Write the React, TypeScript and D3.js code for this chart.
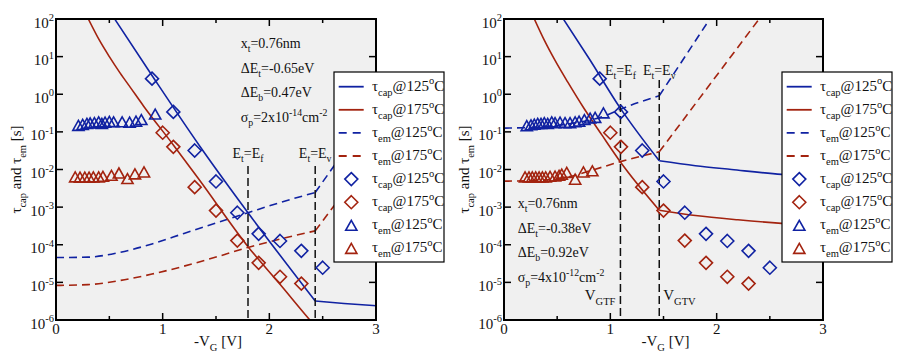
import React from 'react';
import * as d3 from 'd3';

const BLUE = '#1022a2';
const RED = '#a3230f';
const FONT = '"Liberation Serif", "Times New Roman", serif';

// ---------- experimental data (same in both panels) ----------
const capV125 = [0.9, 1.1, 1.3, 1.5, 1.7, 1.9, 2.1, 2.3, 2.5];
const capTau125 = [2.6, 0.34, 0.032, 4.8e-3, 7.1e-4, 1.95e-4, 1.26e-4, 6.9e-5, 2.45e-5];
const capV175 = [1.0, 1.1, 1.3, 1.5, 1.7, 1.9, 2.1, 2.3];
const capTau175 = [0.095, 0.04, 3.4e-3, 8.1e-4, 1.29e-4, 3.3e-5, 1.41e-5, 9.3e-6];

// emission measurements (left panel)
const emV125L = [0.21, 0.25, 0.29, 0.32, 0.36, 0.40, 0.43, 0.46, 0.50, 0.54, 0.62, 0.69, 0.75, 0.80, 0.93];
const emTau125L = [0.14, 0.148, 0.158, 0.162, 0.166, 0.174, 0.158, 0.17, 0.178, 0.174, 0.174, 0.17, 0.182, 0.2, 0.28];
const emV175L = [0.18, 0.225, 0.27, 0.31, 0.35, 0.40, 0.44, 0.52, 0.59, 0.67, 0.74, 0.825];
const emTau175L = [6.0e-3, 5.9e-3, 5.9e-3, 5.9e-3, 6.0e-3, 6.0e-3, 6.2e-3, 6.6e-3, 7.6e-3, 5.4e-3, 7.2e-3, 8.1e-3];
// emission measurements (right panel)
const emV125R = [0.214, 0.254, 0.285, 0.317, 0.348, 0.379, 0.411, 0.449, 0.48, 0.527, 0.574, 0.621, 0.669, 0.706, 0.756, 0.81, 0.857, 0.935];
const emTau125R = [0.138, 0.145, 0.151, 0.158, 0.158, 0.166, 0.158, 0.174, 0.166, 0.17, 0.166, 0.166, 0.174, 0.182, 0.2, 0.219, 0.229, 0.30];
const emV175R = [0.198, 0.235, 0.266, 0.298, 0.33, 0.361, 0.392, 0.433, 0.48, 0.518, 0.543, 0.59, 0.669, 0.747, 0.831];
const emTau175R = [6.0e-3, 6.0e-3, 6.0e-3, 6.0e-3, 6.0e-3, 6.0e-3, 6.0e-3, 6.2e-3, 6.3e-3, 6.6e-3, 7.1e-3, 7.9e-3, 5.2e-3, 8.1e-3, 8.7e-3];

// ---------- model curves, left panel ----------
const lCap125V = [0.55, 0.9, 1.35, 1.8, 2.43];
const lCap125Tau = [100, 3.16, 0.041, 7.1e-4, 3.2e-6];
const lCap125TailV = [2.43, 2.7, 3.0];
const lCap125TailTau = [3.2e-6, 2.75e-6, 2.4e-6];
const lCap175V = [0.303, 0.4, 0.5, 0.6, 0.7, 0.82, 1.1, 1.35, 1.8, 2.1, 2.38, 2.45];
const lCap175Tau = [100, 29.5, 10, 3.7, 1.48, 0.49, 0.045, 5.0e-3, 8.9e-5, 8.9e-6, 1e-6, 5.9e-7];
const lEm125V = [0, 0.3, 0.6, 0.9, 1.2, 1.5, 1.8, 2.1, 2.43];
const lEm125Tau = [4.57e-5, 4.68e-5, 6.3e-5, 1.05e-4, 2.0e-4, 3.8e-4, 7.1e-4, 1.32e-3, 2.45e-3];
const lEm125TailV = [2.43, 3.0];
const lEm125TailTau = [2.45e-3, 0.47];
const lEm175V = [0, 0.3, 0.6, 0.9, 1.2, 1.5, 1.8, 2.1, 2.43];
const lEm175Tau = [8.3e-6, 8.7e-6, 1.12e-5, 1.66e-5, 2.7e-5, 4.7e-5, 8.5e-5, 1.41e-4, 2.34e-4];
const lEm175TailV = [2.43, 3.0];
const lEm175TailTau = [2.34e-4, 0.033];

// ---------- model curves, right panel ----------
const rCap125V = [0.558, 0.8, 1.095, 1.46];
const rCap125Tau = [100, 8.9, 0.42, 0.017];
const rCap125TailV = [1.46, 1.8, 2.14, 2.61, 3.0];
const rCap125TailTau = [0.017, 0.0126, 0.01, 7.4e-3, 6.3e-3];
const rCap175V = [0.285, 0.38, 0.48, 0.6, 0.75, 0.92, 1.095, 1.46];
const rCap175Tau = [100, 26.9, 7.9, 2.09, 0.43, 0.083, 0.0158, 8.3e-4];
const rCap175TailV = [1.46, 1.8, 2.2, 2.61, 3.0];
const rCap175TailTau = [8.3e-4, 6.0e-4, 4.6e-4, 3.7e-4, 3.2e-4];
const rEm125V = [0, 0.3, 0.6, 0.97, 1.095, 1.46];
const rEm125Tau = [0.126, 0.132, 0.162, 0.28, 0.40, 0.91];
const rEm125TailV = [1.46, 2.0];
const rEm125TailTau = [0.91, 190];
const rEm175V = [0, 0.3, 0.6, 0.84, 1.095, 1.46];
const rEm175Tau = [4.9e-3, 5.1e-3, 6.3e-3, 9.8e-3, 0.0162, 0.0295];
const rEm175TailV = [1.46, 2.45];
const rEm175TailTau = [0.0295, 155];

// ---------- axes ----------
const xMajor = [0, 1, 2, 3];
const xMinor = [0.5, 1.5, 2.5];
const yExponents = [2, 1, 0, -1, -2, -3, -4, -5, -6];

// ---------- annotations ----------
const leftMarkV = [1.8, 2.43];
const rightMarkV = [1.095, 1.46];
const leftParams = ['0.76nm', '-0.65eV', '0.47eV', '-14'];
const rightParams = ['0.76nm', '-0.38eV', '0.92eV', '-12'];
const rightSigmaPre = ['2x10', '4x10'];

type Part = { t: string; k?: 'sub' | 'sup' };

function Rich({ x, y, parts, fs = 14, anchor = 'start', transform }: { x: number; y: number; parts: Part[]; fs?: number; anchor?: string; transform?: string }) {
  let cur = 0;
  const small = fs * 0.7;
  return (
    <text x={x} y={y} fontFamily={FONT} fontSize={fs} textAnchor={anchor} transform={transform} fill="#111">
      {parts.map((p, i) => {
        const target = p.k === 'sub' ? fs * 0.32 : p.k === 'sup' ? -fs * 0.42 : 0;
        const dy = target - cur;
        cur = target;
        return (
          <tspan key={i} dy={dy} fontSize={p.k ? small : fs}>
            {p.t}
          </tspan>
        );
      })}
    </text>
  );
}

const diamondPath = (r: number) => `M0,${-r}L${r},0L0,${r}L${-r},0Z`;
const triPath = 'M0,-6L5.6,4L-5.6,4Z';

type Curve = { v: number[]; tau: number[]; color: string; dash?: boolean; curved?: boolean };

function Panel({ x0, x1, y0, y1, curves, em125, em175, right, id }: any) {
  const xs = d3.scaleLinear().domain([0, 3]).range([x0, x1]);
  const ys = d3.scaleLog().domain([1e-6, 1e2]).range([y1, y0]);
  const clip = `clip-${id}`;
  const mkLine = (c: Curve) => {
    const pts = c.v.map((v, i) => [v, c.tau[i]] as [number, number]);
    const g = d3
      .line<[number, number]>()
      .x((d) => xs(d[0]))
      .y((d) => ys(d[1]))
      .curve(c.curved ? d3.curveMonotoneX : d3.curveLinear);
    return g(pts) || '';
  };
  const params = right ? rightParams : leftParams;
  const px = right ? x0 + 13.7 : x0 + 184.7;
  const py = right ? 208 : 48;
  const marks = right ? rightMarkV : leftMarkV;
  const markTop = right ? 80 : 166;
  const labY = right ? 75 : 158;
  return (
    <g>
      <defs>
        <clipPath id={clip}>
          <rect x={x0} y={y0} width={x1 - x0} height={y1 - y0} />
        </clipPath>
      </defs>
      <rect x={x0} y={y0} width={x1 - x0} height={y1 - y0} fill="#f0f0f0" />
      <g clipPath={`url(#${clip})`}>
        {curves.map((c: Curve, i: number) => (
          <path key={i} d={mkLine(c)} fill="none" stroke={c.color} strokeWidth={1.6} strokeDasharray={c.dash ? '8,5' : undefined} />
        ))}
        {marks.map((v: number, i: number) => (
          <line key={i} x1={xs(v)} x2={xs(v)} y1={markTop} y2={y1} stroke="#111" strokeWidth={1.5} strokeDasharray="8,4" />
        ))}
        {capV125.map((v, i) => (
          <path key={'d1' + i} d={diamondPath(6.5)} transform={`translate(${xs(v)},${ys(capTau125[i])})`} fill="none" stroke={BLUE} strokeWidth={1.6} />
        ))}
        {capV175.map((v, i) => (
          <path key={'d2' + i} d={diamondPath(6.5)} transform={`translate(${xs(v)},${ys(capTau175[i])})`} fill="none" stroke={RED} strokeWidth={1.6} />
        ))}
        {em125.v.map((v: number, i: number) => (
          <path key={'t1' + i} d={triPath} transform={`translate(${xs(v)},${ys(em125.tau[i])})`} fill="none" stroke={BLUE} strokeWidth={1.6} />
        ))}
        {em175.v.map((v: number, i: number) => (
          <path key={'t2' + i} d={triPath} transform={`translate(${xs(v)},${ys(em175.tau[i])})`} fill="none" stroke={RED} strokeWidth={1.6} />
        ))}
      </g>
      {/* ticks */}
      {xMajor.map((v) => (
        <g key={'xm' + v}>
          <line x1={xs(v)} x2={xs(v)} y1={y1} y2={y1 - 7} stroke="#000" strokeWidth={1.5} />
          <line x1={xs(v)} x2={xs(v)} y1={y0} y2={y0 + 7} stroke="#000" strokeWidth={1.5} />
          <text x={xs(v)} y={y1 + 14} fontFamily={FONT} fontSize={15} textAnchor="middle" fill="#111">
            {v}
          </text>
        </g>
      ))}
      {xMinor.map((v) => (
        <g key={'xn' + v}>
          <line x1={xs(v)} x2={xs(v)} y1={y1} y2={y1 - 4} stroke="#000" strokeWidth={1.5} />
          <line x1={xs(v)} x2={xs(v)} y1={y0} y2={y0 + 4} stroke="#000" strokeWidth={1.5} />
        </g>
      ))}
      {yExponents.map((e) => (
        <g key={'y' + e}>
          <line x1={x0} x2={x0 + 7} y1={ys(10 ** e)} y2={ys(10 ** e)} stroke="#000" strokeWidth={1.5} />
          <line x1={x1} x2={x1 - 7} y1={ys(10 ** e)} y2={ys(10 ** e)} stroke="#000" strokeWidth={1.5} />
          <Rich x={x0 - 2} y={ys(10 ** e) + 8.5} anchor="end" fs={15} parts={[{ t: '10' }, { t: String(e), k: 'sup' }]} />
        </g>
      ))}
      <rect x={x0} y={y0} width={x1 - x0} height={y1 - y0} fill="none" stroke="#000" strokeWidth={2} />
      {/* axis labels */}
      <Rich x={0} y={0} anchor="middle" fs={15} transform={`translate(${x0 - 35},${(y0 + y1) / 2}) rotate(-90)`} parts={[{ t: 'τ' }, { t: 'cap', k: 'sub' }, { t: ' and τ' }, { t: 'em', k: 'sub' }, { t: ' [s]' }]} />
      <Rich x={(x0 + x1) / 2 + 2} y={346} anchor="middle" fs={15} parts={[{ t: '-V' }, { t: 'G', k: 'sub' }, { t: ' [V]' }]} />
      {/* parameters */}
      <Rich x={px} y={py} parts={[{ t: 'x' }, { t: 't', k: 'sub' }, { t: '=' + params[0] }]} />
      <Rich x={px} y={py + 24.5} parts={[{ t: 'ΔE' }, { t: 't', k: 'sub' }, { t: '=' + params[1] }]} />
      <Rich x={px} y={py + 49} parts={[{ t: 'ΔE' }, { t: 'b', k: 'sub' }, { t: '=' + params[2] }]} />
      <Rich x={px} y={py + 73.5} parts={[{ t: 'σ' }, { t: 'p', k: 'sub' }, { t: '=' + rightSigmaPre[right ? 1 : 0] }, { t: params[3], k: 'sup' }, { t: 'cm' }, { t: '-2', k: 'sup' }]} />
      {/* E labels */}
      <Rich x={xs(marks[0])} y={labY} anchor="middle" parts={[{ t: 'E' }, { t: 't', k: 'sub' }, { t: '=E' }, { t: 'f', k: 'sub' }]} />
      <Rich x={xs(marks[1])} y={labY} anchor="middle" parts={[{ t: 'E' }, { t: 't', k: 'sub' }, { t: '=E' }, { t: 'v', k: 'sub' }]} />
      {right && <Rich x={xs(marks[0]) - 5} y={300} anchor="end" fs={15} parts={[{ t: 'V' }, { t: 'GTF', k: 'sub' }]} />}
      {right && <Rich x={xs(marks[1]) + 4} y={300} fs={15} parts={[{ t: 'V' }, { t: 'GTV', k: 'sub' }]} />}
    </g>
  );
}

const legendItems: { color: string; kind: 'line' | 'dash' | 'diamond' | 'tri'; sub: string; temp: string }[] = [
  { color: BLUE, kind: 'line', sub: 'cap', temp: '125' },
  { color: RED, kind: 'line', sub: 'cap', temp: '175' },
  { color: BLUE, kind: 'dash', sub: 'em', temp: '125' },
  { color: RED, kind: 'dash', sub: 'em', temp: '175' },
  { color: BLUE, kind: 'diamond', sub: 'cap', temp: '125' },
  { color: RED, kind: 'diamond', sub: 'cap', temp: '175' },
  { color: BLUE, kind: 'tri', sub: 'em', temp: '125' },
  { color: RED, kind: 'tri', sub: 'em', temp: '175' },
];

function Legend({ x, y }: { x: number; y: number }) {
  return (
    <g>
      <rect x={x} y={y} width={110} height={190} fill="#fff" stroke="#000" strokeWidth={1.2} />
      {legendItems.map((it, i) => {
        const cy = y + 14.7 + i * 23.1;
        return (
          <g key={i}>
            {(it.kind === 'line' || it.kind === 'dash') && (
              <line x1={x + 4.7} x2={x + 29.7} y1={cy} y2={cy} stroke={it.color} strokeWidth={1.8} strokeDasharray={it.kind === 'dash' ? '8,6' : undefined} />
            )}
            {it.kind === 'diamond' && <path d={diamondPath(6.5)} transform={`translate(${x + 17.3},${cy})`} fill="none" stroke={it.color} strokeWidth={1.6} />}
            {it.kind === 'tri' && <path d={triPath} transform={`translate(${x + 17.3},${cy + 1})`} fill="none" stroke={it.color} strokeWidth={1.6} />}
            <Rich x={x + 38} y={cy + 4} fs={15} parts={[{ t: 'τ' }, { t: it.sub, k: 'sub' }, { t: '@' + it.temp }, { t: 'o', k: 'sup' }, { t: 'C' }]} />
          </g>
        );
      })}
    </g>
  );
}

export default function App() {
  const leftCurves: Curve[] = [
    { v: lEm125V, tau: lEm125Tau, color: BLUE, dash: true, curved: true },
    { v: lEm125TailV, tau: lEm125TailTau, color: BLUE, dash: true },
    { v: lEm175V, tau: lEm175Tau, color: RED, dash: true, curved: true },
    { v: lEm175TailV, tau: lEm175TailTau, color: RED, dash: true },
    { v: lCap125V, tau: lCap125Tau, color: BLUE, curved: true },
    { v: lCap125TailV, tau: lCap125TailTau, color: BLUE, curved: true },
    { v: lCap175V, tau: lCap175Tau, color: RED, curved: true },
  ];
  const rightCurves: Curve[] = [
    { v: rEm125V, tau: rEm125Tau, color: BLUE, dash: true, curved: true },
    { v: rEm125TailV, tau: rEm125TailTau, color: BLUE, dash: true },
    { v: rEm175V, tau: rEm175Tau, color: RED, dash: true, curved: true },
    { v: rEm175TailV, tau: rEm175TailTau, color: RED, dash: true },
    { v: rCap125V, tau: rCap125Tau, color: BLUE, curved: true },
    { v: rCap125TailV, tau: rCap125TailTau, color: BLUE, curved: true },
    { v: rCap175V, tau: rCap175Tau, color: RED, curved: true },
    { v: rCap175TailV, tau: rCap175TailTau, color: RED, curved: true },
  ];
  return (
    <svg width={900} height={360} style={{ position: 'absolute', left: 0, top: 0, background: '#fff' }}>
      <rect width={900} height={360} fill="#fff" />
      <Panel id="L" x0={56} x1={376} y0={19} y1={320} curves={leftCurves} em125={{ v: emV125L, tau: emTau125L }} em175={{ v: emV175L, tau: emTau175L }} right={false} />
      <Legend x={334} y={72} />
      <Panel id="R" x0={504} x1={823} y0={19} y1={320} curves={rightCurves} em125={{ v: emV125R, tau: emTau125R }} em175={{ v: emV175R, tau: emTau175R }} right={true} />
      <Legend x={782} y={72} />
    </svg>
  );
}
